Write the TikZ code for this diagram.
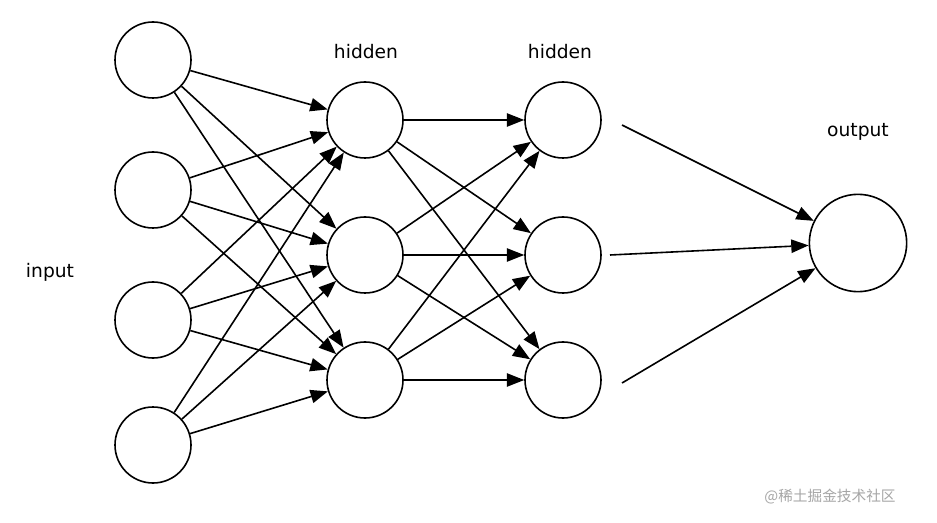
\documentclass[tikz,border=0pt]{standalone}
\usepackage{fontspec}
\setmainfont{DejaVu Sans}
\newfontfamily\cjk{Noto Sans CJK SC}
\usetikzlibrary{arrows.meta}
\begin{document}
\begin{tikzpicture}[x=0.75pt,y=-0.75pt,
  neuron/.style={circle,draw,line width=1.2pt,minimum size=57pt,inner sep=0pt},
  conn/.style={line width=1.2pt,-{Triangle[length=13pt,width=10pt]}},
  lbl/.style={font=\fontsize{14}{16}\selectfont}]
\useasboundingbox (0,0) rectangle (937,523);
\fill[white] (0,0) rectangle (937,523);
\foreach \i/\y in {1/60,2/190,3/320,4/445} \node[neuron] (i\i) at (153,\y) {};
\foreach \i/\y in {1/120,2/255,3/380} {
  \node[neuron] (h\i) at (365,\y) {};
  \node[neuron] (g\i) at (563,\y) {};
}
\node[neuron,minimum size=73pt] (o) at (858,243) {};
\node[lbl] (li) at (50,272) {input};
\node[lbl] (lh1) at (366,52) {hidden};
\node[lbl] (lh2) at (560,52) {hidden};
\node[lbl] (lo) at (858,132) {output};
\node[font=\cjk\fontsize{11}{13}\selectfont,text=gray!70] (wm) at (830,497) {@稀土掘金技术社区};
\foreach \a in {1,2,3,4} \foreach \b in {1,2,3} \draw[conn] (i\a) -- (h\b);
\foreach \a in {1,2,3} \foreach \b in {1,2,3} \draw[conn] (h\a) -- (g\b);
\coordinate (s1) at (622,125);
\coordinate (s2) at (610,255);
\coordinate (s3) at (622,383);
\draw[conn] (s1) -- (o);
\draw[conn] (s2) -- (o);
\draw[conn] (s3) -- (o);
\end{tikzpicture}
\end{document}
